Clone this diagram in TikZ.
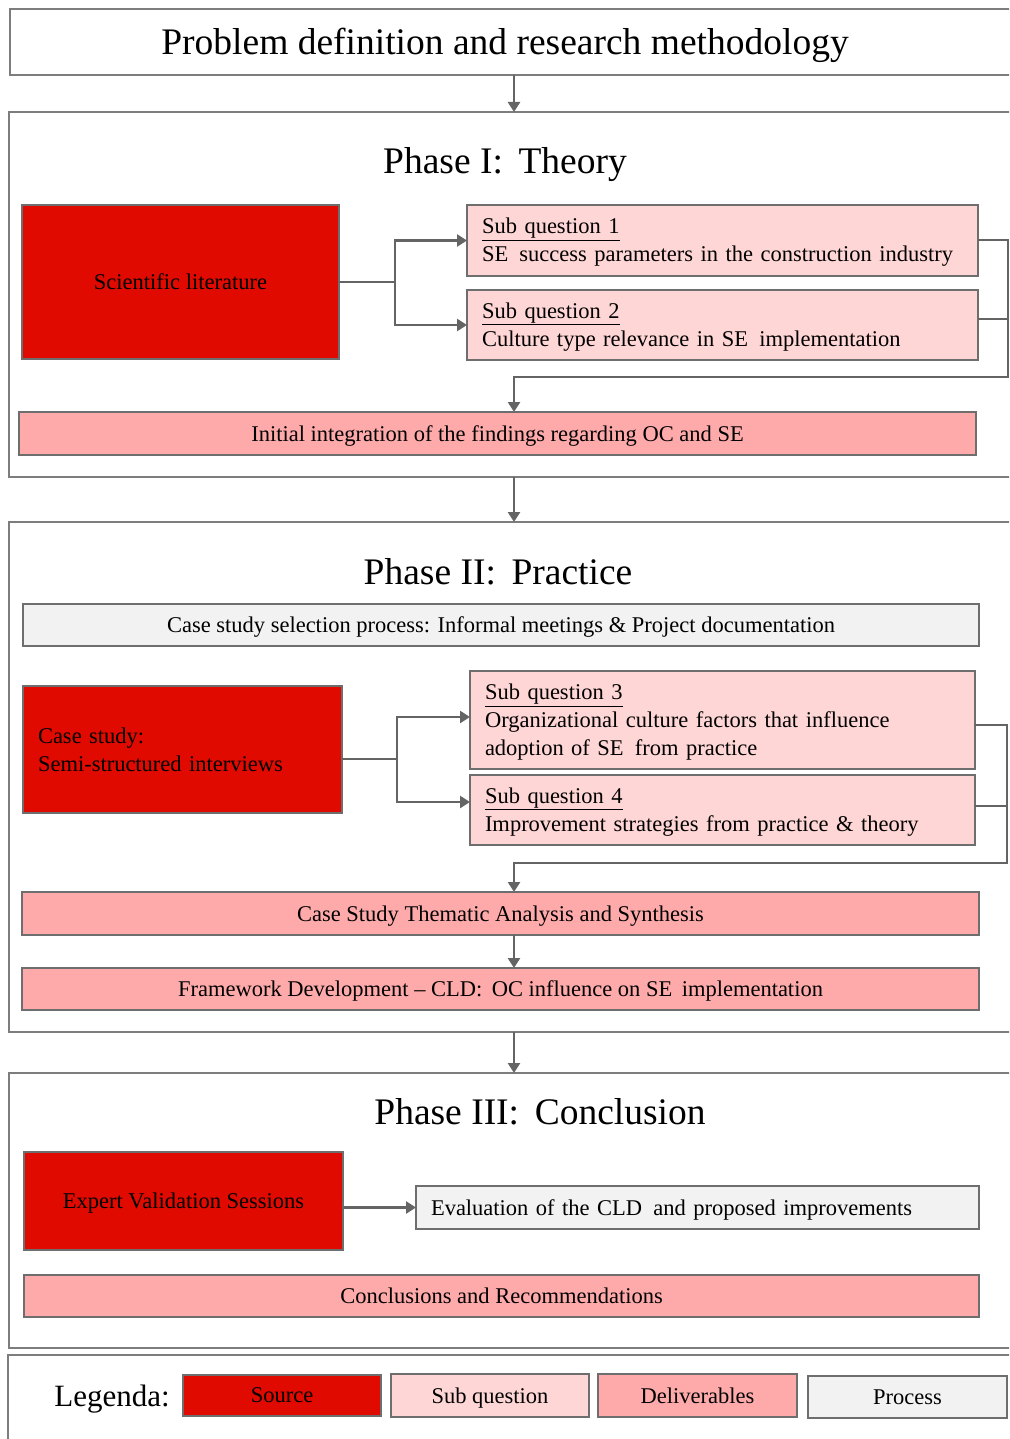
\documentclass[tikz,border=0pt]{standalone}
\usepackage{fontspec}
\setmainfont{Liberation Serif}
\usetikzlibrary{arrows.meta}

\definecolor{srcred}{RGB}{224,10,0}
\definecolor{sqpink}{RGB}{255,214,214}
\definecolor{delpink}{RGB}{255,170,170}
\definecolor{procgray}{RGB}{242,242,242}
\definecolor{edgegray}{RGB}{110,110,110}
\definecolor{linkgray}{RGB}{100,100,100}
\definecolor{framegray}{RGB}{125,125,125}

\newcommand\txtbody{\fontsize{22.5}{27.8}\selectfont}
\newcommand\txthead{\fontsize{37.5}{42}\selectfont}
\newcommand\txtlegend{\fontsize{31}{36}\selectfont}
% underlined first line of a sub question box, with a taller strut
\newcommand\sqhead[1]{\rule{0pt}{19.5pt}\underline{#1}}

\tikzset{
  frame/.style={draw=framegray, line width=2pt, fill=white, anchor=north west, inner sep=0pt, outer sep=0pt},
  box/.style={draw=edgegray, line width=1.8pt, anchor=north west, inner sep=0pt, outer sep=0pt, font=\txtbody, align=center},
  oneline/.style={text depth=0pt},
  source/.style={box, fill=srcred},
  subq/.style={box, fill=sqpink, inner xsep=15pt, align=left},
  deliv/.style={box, oneline, fill=delpink},
  process/.style={box, oneline, fill=procgray},
  legbox/.style={box, oneline},
  heading/.style={font=\txthead, inner sep=0pt, text depth=0pt},
  conn/.style={draw=linkgray, line width=2.6pt},
  arr/.style={conn, -{Triangle[length=10pt,width=12pt]}}
}

\begin{document}
\begin{tikzpicture}[x=1pt,y=-1pt]
\useasboundingbox (0,0) rectangle (1009,1439);
\clip (0,0) rectangle (1009,1439);

% vertical axis of the main flow
\coordinate (axis) at (514,0);

% ---------------- frames ----------------
\node[frame, minimum width=1040pt, minimum height=66pt] (top) at (10,9) {};
\node[heading] (toptitle) at (505,41) {Problem definition and research methodology};

\node[frame, minimum width=1040pt, minimum height=365pt] (ph1) at (9,112) {};
\node[frame, minimum width=1040pt, minimum height=510pt] (ph2) at (9,522) {};
\node[frame, minimum width=1040pt, minimum height=275pt] (ph3) at (9,1073) {};
\node[frame, minimum width=1040pt, minimum height=110pt] (leg) at (8,1355) {};

% ---------------- Phase I ----------------
\node[heading] (t1) at (505,160) {Phase I:\, Theory};
\node[source, oneline, minimum width=317pt, minimum height=154pt] (sci) at (22,205) {Scientific literature};
\node[subq, text width=481pt, minimum height=71pt] (sq1) at (467,205)
  {\sqhead{Sub question 1}\\SE\, success parameters in the construction industry};
\node[subq, text width=481pt, minimum height=70pt] (sq2) at (467,290)
  {\sqhead{Sub question 2}\\Culture type relevance in SE\, implementation};
\node[deliv, minimum width=957pt, minimum height=43pt] (init) at (19,412)
  {Initial integration of the findings regarding OC and SE};

\coordinate (j1) at (395,282);
\draw[conn] (sci.east) -- (j1);
\draw[arr] (j1) |- (sq1.west);
\draw[arr] (j1) |- (sq2.west);
\coordinate (r1) at (1008,240);
\coordinate (r2) at (1008,319);
\coordinate (r3) at (1008,377);
\draw[conn] (sq2.east |- r2) -- (r2);
\draw[arr] (sq1.east |- r1) -- (r1) -- (r3) -- (r3 -| axis) -- (init.north -| axis);

\draw[arr] (top.south -| axis) -- (ph1.north -| axis);
\draw[arr] (ph1.south -| axis) -- (ph2.north -| axis);

% ---------------- Phase II ----------------
\node[heading] (t2) at (498,571) {Phase II:\, Practice};
\node[process, minimum width=956pt, minimum height=42pt] (sel) at (23,604)
  {Case study selection process: Informal meetings \& Project documentation};
\node[source, minimum width=319pt, minimum height=127pt, inner xsep=15pt, text width=289pt, align=left] (case) at (23,686)
  {Case study:\\Semi-structured interviews};
\node[subq, text width=475pt, minimum height=98pt] (sq3) at (470,671)
  {\sqhead{Sub question 3}\\Organizational culture factors that influence\\adoption of SE\, from practice};
\node[subq, text width=475pt, minimum height=70pt] (sq4) at (470,775)
  {\sqhead{Sub question 4}\\Improvement strategies from practice \& theory};
\node[deliv, minimum width=957pt, minimum height=43pt] (thema) at (22,892)
  {Case Study Thematic Analysis and Synthesis};
\node[deliv, minimum width=957pt, minimum height=42pt] (fw) at (22,968)
  {Framework Development -- CLD:\, OC influence on SE\, implementation};

\coordinate (j2) at (397,759);
\coordinate (y717) at (0,717);
\coordinate (y802) at (0,802);
\draw[conn] (case.east |- j2) -- (j2);
\draw[arr] (j2) |- (sq3.west |- y717);
\draw[arr] (j2) |- (sq4.west |- y802);
\coordinate (s1) at (1007,725);
\coordinate (s2) at (1007,806);
\coordinate (s3) at (1007,863);
\draw[conn] (sq4.east |- s2) -- (s2);
\draw[arr] (sq3.east |- s1) -- (s1) -- (s3) -- (s3 -| axis) -- (thema.north -| axis);
\draw[arr] (thema.south -| axis) -- (fw.north -| axis);

\draw[arr] (ph2.south -| axis) -- (ph3.north -| axis);

% ---------------- Phase III ----------------
\node[heading] (t3) at (540,1111) {Phase III:\, Conclusion};
\node[source, oneline, minimum width=319pt, minimum height=98pt] (expert) at (24,1152)
  {Expert Validation Sessions};
\node[process, minimum width=563pt, minimum height=43pt, inner xsep=15pt, text width=533pt, align=left] (eval) at (416,1186)
  {Evaluation of the CLD\, and proposed improvements};
\node[deliv, minimum width=955pt, minimum height=42pt] (concl) at (24,1275)
  {Conclusions and Recommendations};
\draw[arr] (expert.east |- eval.west) -- (eval.west);

% ---------------- legend ----------------
\node[font=\txtlegend, inner sep=0pt, text depth=0pt] (legtitle) at (112,1396) {Legenda:};
\node[legbox, fill=srcred, minimum width=198pt, minimum height=41pt] (lsrc) at (183,1375) {Source};
\node[legbox, fill=sqpink, minimum width=198pt, minimum height=43pt] (lsq) at (391,1374) {Sub question};
\node[legbox, fill=delpink, minimum width=199pt, minimum height=43pt] (ldel) at (598,1374) {Deliverables};
\node[legbox, fill=procgray, minimum width=199pt, minimum height=42pt] (lproc) at (808,1376) {Process};
\end{tikzpicture}
\end{document}
